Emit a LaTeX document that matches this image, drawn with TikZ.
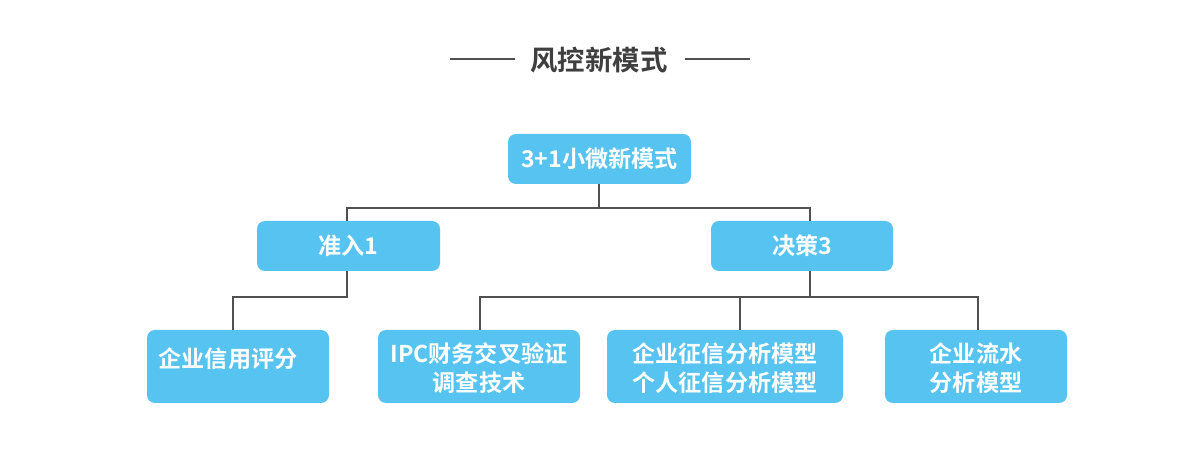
\documentclass[tikz,border=0pt]{standalone}
\usepackage{fontspec}
\newfontfamily\cjk{Noto Sans CJK SC Bold}
\definecolor{boxblue}{HTML}{56C3F0}
\definecolor{linegray}{HTML}{505050}
\definecolor{titlegray}{HTML}{3F3F3F}
\begin{document}
\begin{tikzpicture}[x=1bp,y=-1bp,
  box/.style={fill=boxblue, rounded corners=8bp, inner sep=0pt},
  btext/.style={text=white, font=\cjk\fontsize{23.2}{29}\selectfont, align=center},
  conn/.style={draw=linegray, line width=1.8bp}]
\useasboundingbox[fill=white] (0,0) rectangle (1200,472);
% title
\node[text=titlegray, font=\cjk\fontsize{27.5}{30}\selectfont] (title) at (599,60) {风控新模式};
\coordinate (tl1) at (450,59); \coordinate (tl2) at (515,59);
\coordinate (tr1) at (685,59); \coordinate (tr2) at (750,59);
\draw[conn] (tl1) -- (tl2);
\draw[conn] (tr1) -- (tr2);
% boxes
\path[box] (508,134) rectangle (691,184);
\node[btext] (top) at (599.5,159) {3+1小微新模式};
\path[box] (257,221) rectangle (440,271);
\node[btext] (a) at (348.5,246) {准入1};
\path[box] (711,221) rectangle (893,271);
\node[btext] (b) at (802,246) {决策3};
\path[box] (147,330) rectangle (329,403);
\node[btext] (c1) at (228,359) {企业信用评分};
\path[box] (378,330) rectangle (580,403);
\node[btext] (c2) at (479,368) {IPC财务交叉验证\\调查技术};
\path[box] (607,330) rectangle (843,403);
\node[btext] (c3) at (725,368) {企业征信分析模型\\个人征信分析模型};
\path[box] (885,330) rectangle (1067,403);
\node[btext] (c4) at (976,368) {企业流水\\分析模型};
% anchors for connectors
\coordinate (topS) at (599,184);
\coordinate (aN) at (347,221); \coordinate (aS) at (347,271);
\coordinate (bN) at (810,221); \coordinate (bS) at (810,271);
\coordinate (c1N) at (233,330); \coordinate (c2N) at (480,330);
\coordinate (c3N) at (740,330); \coordinate (c4N) at (978,330);
% connectors
\draw[conn] (topS) -- (599,208) -| (aN);
\draw[conn] (599,208) -| (bN);
\draw[conn] (aS) -- (347,297) -| (c1N);
\draw[conn] (bS) -- (810,297) -| (c2N);
\draw[conn] (810,297) -| (c4N);
\draw[conn] (c3N) -- (740,297);
\end{tikzpicture}
\end{document}
